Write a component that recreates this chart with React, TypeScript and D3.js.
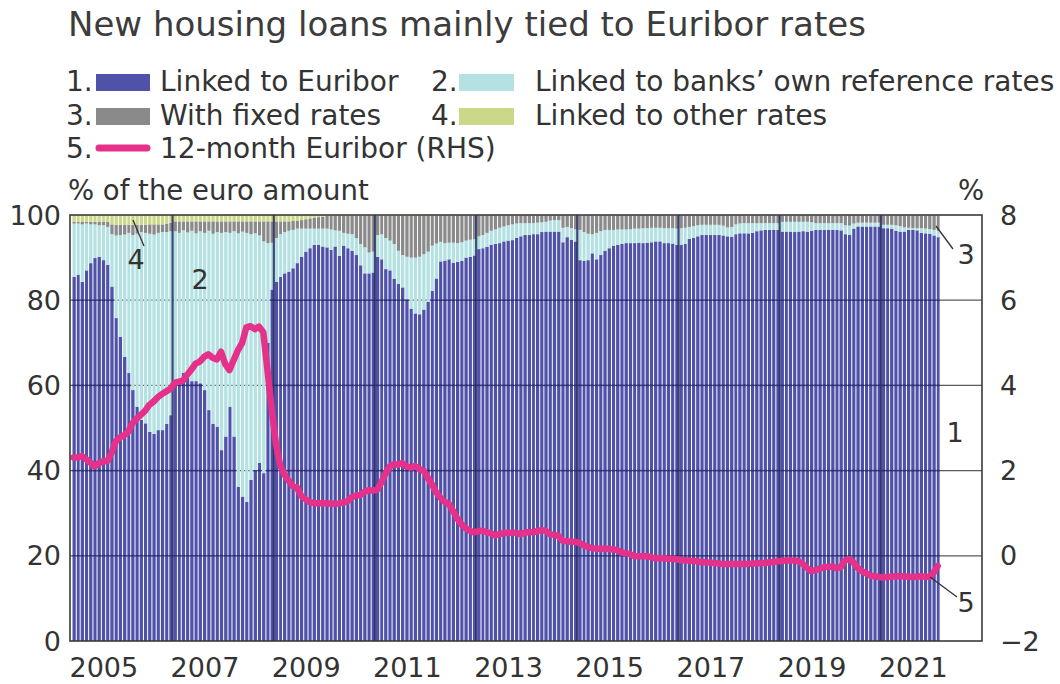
import * as d3 from "d3";

// monthly data, Jan 2005 .. Feb 2022
const startMonth = new Date(2005, 0, 1);

// 1. share of new housing loans linked to Euribor, %
const euriborShare = [
  85.5, 86, 84.3, 87, 88.7, 89.9, 90.2, 89.4, 88.3, 83.2, 75.8, 71.4, // 2005
  66.7, 62.9, 58.9, 55, 51.9, 51.1, 49.1, 48.6, 49.5, 49.5, 51, 53, // 2006
  61.3, 61.5, 62.9, 61.8, 61, 61, 60.5, 58.9, 54.2, 51, 50.3, 44.8, // 2007
  48, 55, 48, 36.2, 33.9, 32.7, 37.8, 40.1, 41.8, 39.4, 70, 82.5, // 2008
  84.3, 85.5, 86.3, 86.7, 87.5, 88.7, 90.2, 91.4, 92.2, 93, 93, 92.6, // 2009
  92.4, 91.8, 92.6, 90.4, 92.8, 92.2, 91.6, 90.6, 88.2, 86.3, 86.3, 86.5, // 2010
  90.2, 89.6, 87.3, 87, 85, 83.8, 83, 80.2, 78, 76.9, 76.7, 77.8, // 2011
  79.6, 82.2, 85.1, 89.1, 89.3, 89.6, 88.8, 89, 89.2, 90, 90.2, 90.5, // 2012
  92, 92.2, 92.5, 93, 93.2, 93.4, 93.8, 94, 94.1, 94.6, 95, 95.3, // 2013
  95.3, 95.5, 95.5, 96, 96.1, 96.1, 96.1, 96.1, 93.6, 94.8, 94.2, 93.8, // 2014
  89.4, 89.2, 89.4, 91, 89.6, 90.6, 91.6, 92.2, 92.8, 93, 93.2, 93.4, // 2015
  93.4, 93.4, 93.5, 93.4, 93.5, 93.6, 93.8, 93.8, 93.4, 93.4, 93.3, 93, // 2016
  93, 93.2, 94.4, 94.6, 95, 95.3, 95.3, 95.3, 95.3, 95.3, 95.2, 95, // 2017
  94.9, 95.5, 95.7, 95.7, 95.7, 95.8, 96.2, 96.4, 96.5, 96.5, 96.5, 96.5, // 2018
  96.1, 96.1, 96.1, 96, 96.1, 96.2, 96.1, 96.3, 96.5, 96.5, 96.5, 96.5, // 2019
  96.5, 96.5, 96.4, 95.5, 95.3, 96.8, 97.3, 97.3, 97.3, 97.3, 97.3, 97.3, // 2020
  96.9, 96.9, 96.8, 96.3, 96.1, 96.1, 96.5, 96.5, 96.4, 95.8, 95.7, 95.6, // 2021
  95.2, 94.8, // 2022
];

// 2. linked to banks' own reference rates, %
const ownRefShare = [
  12.5, 12, 13.5, 11, 9.1, 7.9, 7.4, 8.2, 8.9, 12.3, 19.4, 23.9,
  28.7, 32.9, 36.4, 40.6, 44.1, 44.7, 46.5, 46.8, 46.3, 46.5, 45, 43.2,
  34.9, 34.3, 33.5, 34.1, 35.3, 34.7, 35.7, 36.9, 42.1, 44.6, 45.7, 51,
  48, 40.8, 48.2, 59.5, 62.2, 63.1, 57.7, 55.6, 53.4, 54.4, 23.4, 11,
  10.3, 10, 9.7, 9.6, 9, 8.1, 6.6, 5.4, 4.6, 3.8, 3.8, 4.2,
  4.4, 4.8, 3.8, 5.9, 3, 3.4, 3.9, 4, 5, 6.1, 4.9, 4.9,
  5.1, 5.9, 7.3, 7, 8.2, 7.8, 7.6, 10, 12, 13.1, 13.5, 13,
  11.8, 10.6, 8.2, 4.6, 4.1, 3.9, 4.7, 4.4, 4.4, 4, 4, 3.8,
  3, 3.1, 3.3, 3.3, 3.4, 3.6, 3.5, 3.6, 3.7, 3.4, 3.1, 2.8,
  2.8, 2.6, 2.7, 2.3, 2.3, 2.6, 2.7, 2.7, 3.4, 2.4, 2.7, 2.9,
  7.1, 6.8, 6.2, 4.5, 6.2, 5.6, 4.9, 4.3, 3.7, 3.6, 3.4, 3.2,
  3.3, 3.4, 3.3, 3.5, 3.4, 3.4, 3.2, 3.2, 3.5, 3.5, 3.6, 3.8,
  3.9, 3.8, 2.8, 2.8, 2.6, 2.4, 2.4, 2.4, 2.4, 2.4, 2.3, 2.1,
  2.3, 2.3, 2.3, 2.4, 2.4, 2.3, 1.9, 1.7, 1.6, 1.6, 1.6, 1.6,
  2.3, 2.3, 2.3, 2.4, 2.3, 2.2, 2.3, 2, 1.6, 1.6, 1.6, 1.6,
  1.6, 1.6, 1.7, 2.1, 2.2, 1.2, 0.9, 0.9, 0.9, 0.9, 0.9, 0.9,
  0.8, 0.8, 0.9, 1.3, 1.3, 1, 0.5, 0.4, 0.5, 1.1, 1.1, 1.1,
  1.3, 1.5,
];

// 3. with fixed rates, %
const fixedShare = [
  0.4, 0.4, 0.6, 0.4, 0.6, 0.6, 0.8, 0.8, 1.2, 2.3, 2.5, 2.4,
  2.3, 1.9, 2.4, 2.1, 1.7, 1.9, 2.2, 2.4, 2, 1.8, 2, 2,
  2.3, 2.7, 2.1, 2.6, 2.2, 2.8, 2.3, 2.7, 2.2, 2.9, 2.5, 2.7,
  2.5, 2.7, 2.3, 2.8, 2.4, 2.7, 3, 2.8, 3.3, 4.7, 5.1, 5,
  3.9, 3, 2.5, 2.2, 2.1, 1.9, 2, 2.2, 2.4, 2.6, 2.7, 2.8,
  3, 3.2, 3.4, 3.5, 4, 4.2, 4.3, 5.2, 6.6, 7.4, 8.6, 8.4,
  4.5, 4.3, 5.2, 5.8, 6.6, 8.2, 9.2, 9.6, 9.8, 9.8, 9.6, 9,
  8.5, 7.1, 6.6, 6.2, 6.5, 6.4, 6.4, 6.5, 6.3, 5.9, 5.7, 5.6,
  4.9, 4.6, 4.1, 3.6, 3.3, 2.9, 2.6, 2.3, 2.1, 1.9, 1.8, 1.8,
  1.8, 1.8, 1.7, 1.6, 1.5, 1.2, 1.1, 1.1, 2.9, 2.7, 3, 3.2,
  3.4, 3.9, 4.3, 4.4, 4.1, 3.7, 3.4, 3.4, 3.4, 3.3, 3.3, 3.3,
  3.2, 3.1, 3.1, 3, 3, 2.9, 2.9, 2.9, 3, 3, 3, 3.1,
  3, 2.9, 2.7, 2.5, 2.3, 2.2, 2.2, 2.2, 2.2, 2.2, 2.4, 2.8,
  2.7, 2.1, 1.9, 1.8, 1.8, 1.8, 1.8, 1.8, 1.8, 1.8, 1.8, 1.8,
  1.5, 1.5, 1.5, 1.5, 1.5, 1.5, 1.5, 1.6, 1.8, 1.8, 1.8, 1.8,
  1.8, 1.8, 1.8, 2.3, 2.4, 1.9, 1.7, 1.7, 1.7, 1.7, 1.7, 1.7,
  2.2, 2.2, 2.2, 2.3, 2.5, 2.8, 2.9, 3, 3, 3, 3.1, 3.2,
  3.4, 3.6,
];

// 4. linked to other rates, %
const otherShare = [
  1.6, 1.6, 1.6, 1.6, 1.6, 1.6, 1.6, 1.6, 1.6, 2.2, 2.3, 2.3,
  2.3, 2.3, 2.3, 2.3, 2.3, 2.3, 2.2, 2.2, 2.2, 2.2, 2, 1.8,
  1.5, 1.5, 1.5, 1.5, 1.5, 1.5, 1.5, 1.5, 1.5, 1.5, 1.5, 1.5,
  1.5, 1.5, 1.5, 1.5, 1.5, 1.5, 1.5, 1.5, 1.5, 1.5, 1.5, 1.5,
  1.5, 1.5, 1.5, 1.5, 1.4, 1.3, 1.2, 1, 0.8, 0.6, 0.5, 0.4,
  0.2, 0.2, 0.2, 0.2, 0.2, 0.2, 0.2, 0.2, 0.2, 0.2, 0.2, 0.2,
  0.2, 0.2, 0.2, 0.2, 0.2, 0.2, 0.2, 0.2, 0.2, 0.2, 0.2, 0.2,
  0.1, 0.1, 0.1, 0.1, 0.1, 0.1, 0.1, 0.1, 0.1, 0.1, 0.1, 0.1,
  0.1, 0.1, 0.1, 0.1, 0.1, 0.1, 0.1, 0.1, 0.1, 0.1, 0.1, 0.1,
  0.1, 0.1, 0.1, 0.1, 0.1, 0.1, 0.1, 0.1, 0.1, 0.1, 0.1, 0.1,
  0.1, 0.1, 0.1, 0.1, 0.1, 0.1, 0.1, 0.1, 0.1, 0.1, 0.1, 0.1,
  0.1, 0.1, 0.1, 0.1, 0.1, 0.1, 0.1, 0.1, 0.1, 0.1, 0.1, 0.1,
  0.1, 0.1, 0.1, 0.1, 0.1, 0.1, 0.1, 0.1, 0.1, 0.1, 0.1, 0.1,
  0.1, 0.1, 0.1, 0.1, 0.1, 0.1, 0.1, 0.1, 0.1, 0.1, 0.1, 0.1,
  0.1, 0.1, 0.1, 0.1, 0.1, 0.1, 0.1, 0.1, 0.1, 0.1, 0.1, 0.1,
  0.1, 0.1, 0.1, 0.1, 0.1, 0.1, 0.1, 0.1, 0.1, 0.1, 0.1, 0.1,
  0.1, 0.1, 0.1, 0.1, 0.1, 0.1, 0.1, 0.1, 0.1, 0.1, 0.1, 0.1,
  0.1, 0.1,
];

// 5. 12-month Euribor, % (RHS)
const euribor12m = [
  2.31, 2.31, 2.34, 2.27, 2.19, 2.1, 2.17, 2.22, 2.22, 2.41, 2.68, 2.78,
  2.83, 2.91, 3.11, 3.22, 3.31, 3.4, 3.54, 3.62, 3.72, 3.8, 3.86, 3.92,
  4.06, 4.09, 4.11, 4.25, 4.37, 4.51, 4.56, 4.67, 4.73, 4.65, 4.61, 4.79,
  4.5, 4.36, 4.59, 4.82, 4.99, 5.36, 5.39, 5.32, 5.38, 5.25, 4.35, 3.45,
  2.62, 2.14, 1.91, 1.77, 1.64, 1.61, 1.41, 1.33, 1.26, 1.24, 1.23, 1.24,
  1.23, 1.23, 1.22, 1.23, 1.25, 1.28, 1.37, 1.42, 1.42, 1.5, 1.54, 1.53,
  1.55, 1.71, 1.92, 2.09, 2.15, 2.14, 2.18, 2.1, 2.07, 2.11, 2.04, 2.0,
  1.84, 1.68, 1.5, 1.37, 1.27, 1.22, 1.06, 0.88, 0.74, 0.65, 0.59, 0.55,
  0.58, 0.59, 0.55, 0.53, 0.48, 0.51, 0.53, 0.54, 0.54, 0.54, 0.51, 0.54,
  0.56, 0.55, 0.58, 0.6, 0.59, 0.51, 0.49, 0.47, 0.36, 0.34, 0.33, 0.33,
  0.3, 0.25, 0.21, 0.18, 0.17, 0.16, 0.17, 0.16, 0.15, 0.13, 0.08, 0.06,
  0.04, -0.01, -0.01, -0.01, -0.01, -0.03, -0.06, -0.05, -0.06, -0.07, -0.07, -0.08,
  -0.1, -0.11, -0.11, -0.12, -0.13, -0.15, -0.15, -0.16, -0.17, -0.18, -0.19, -0.19,
  -0.19, -0.19, -0.19, -0.19, -0.19, -0.18, -0.18, -0.17, -0.17, -0.15, -0.15, -0.13,
  -0.12, -0.11, -0.11, -0.11, -0.13, -0.19, -0.28, -0.36, -0.34, -0.3, -0.27, -0.26,
  -0.25, -0.29, -0.27, -0.11, -0.08, -0.15, -0.28, -0.36, -0.41, -0.47, -0.48, -0.5,
  -0.51, -0.5, -0.49, -0.48, -0.48, -0.48, -0.49, -0.5, -0.49, -0.48, -0.49, -0.5,
  -0.4, -0.24,
];

const leftTicks = [0, 20, 40, 60, 80, 100];
const rightTicks = [-2, 0, 2, 4, 6, 8];
const yearLabels = [2005, 2007, 2009, 2011, 2013, 2015, 2017, 2019, 2021];

const seriesKeys = ["euribor", "own", "fixed", "other"];
const colors = {
  euribor: "#4f52a8",
  own: "#b4e1e2",
  fixed: "#8a8a8a",
  other: "#cbd888",
  line: "#e6318b",
};

const font = "DejaVu Sans";
const textColor = "#333";

export default function App() {
  const width = 1060;
  const height = 684;
  const left = 71.5;
  const right = 982;
  const top = 215;
  const bottom = 641;

  const x = d3
    .scaleTime()
    .domain([new Date(2005, 0, 1), new Date(2023, 0, 1)])
    .range([left, right]);
  const yL = d3.scaleLinear().domain([0, 100]).range([bottom, top]);
  const yR = d3.scaleLinear().domain([-2, 8]).range([bottom, top]);

  const rows = euriborShare.map((v, i) => ({
    date: d3.timeMonth.offset(startMonth, i),
    euribor: v,
    own: ownRefShare[i],
    fixed: fixedShare[i],
    other: otherShare[i],
  }));

  const stacked = d3.stack().keys(seriesKeys)(rows);

  const barX = (d) => x(d.date) + 1;
  const barW = (d) => x(d3.timeMonth.offset(d.date, 1)) - x(d.date) - 1;
  const midMonth = (d) => (x(d.date) + x(d3.timeMonth.offset(d.date, 1))) / 2;

  const line = d3
    .line()
    .x((d, i) => midMonth(rows[i]))
    .y((d) => yR(d))
    .curve(d3.curveLinear);

  const gridVals = [20, 40, 60, 80];
  const yearLines = d3.range(2007, 2023, 2).map((y) => x(new Date(y, 0, 1)));

  return (
    <svg
      width={width}
      height={height}
      style={{ position: "absolute", left: 0, top: 0, background: "#fff" }}
      fontFamily={font}
    >
      <defs>
        <clipPath id="blueClip">
          {stacked[0].map((d, i) => (
            <rect
              key={i}
              x={barX(d.data)}
              width={barW(d.data)}
              y={yL(d[1])}
              height={yL(d[0]) - yL(d[1])}
            />
          ))}
        </clipPath>
      </defs>

      {/* title */}
      <text x={68} y={36} fontSize={34} fill="#3c3c3c">
        New housing loans mainly tied to Euribor rates
      </text>

      {/* legend */}
      <g fontSize={28} fill={textColor}>
        <text x={66} y={91}>1.</text>
        <rect x={96} y={74} width={54} height={17} fill={colors.euribor} />
        <text x={160} y={91}>Linked to Euribor</text>
        <text x={431} y={91}>2.</text>
        <rect x={459} y={74} width={55} height={17} fill={colors.own} />
        <text x={535} y={91}>Linked to banks’ own reference rates</text>

        <text x={66} y={125}>3.</text>
        <rect x={96} y={108} width={54} height={17} fill={colors.fixed} />
        <text x={160} y={125}>With fixed rates</text>
        <text x={431} y={125}>4.</text>
        <rect x={459} y={108} width={55} height={17} fill={colors.other} />
        <text x={535} y={125}>Linked to other rates</text>

        <text x={66} y={158}>5.</text>
        <line
          x1={99}
          x2={147}
          y1={148}
          y2={148}
          stroke={colors.line}
          strokeWidth={7}
          strokeLinecap="round"
        />
        <text x={160} y={158}>12-month Euribor (RHS)</text>
      </g>

      {/* axis titles */}
      <text x={68} y={200} fontSize={27.5} fill={textColor}>
        % of the euro amount
      </text>
      <text x={958} y={200} fontSize={27.5} fill={textColor}>
        %
      </text>

      {/* gridlines under bars */}
      {gridVals.map((v) => (
        <line
          key={v}
          x1={70}
          x2={right}
          y1={yL(v)}
          y2={yL(v)}
          stroke="#5a5a5a"
          strokeWidth={1.3}
        />
      ))}

      {/* stacked bars */}
      {stacked.map((s) => (
        <g key={s.key} fill={colors[s.key]}>
          {s.map((d, i) => (
            <rect
              key={i}
              x={barX(d.data)}
              width={barW(d.data)}
              y={yL(d[1])}
              height={Math.max(0, yL(d[0]) - yL(d[1]))}
            />
          ))}
        </g>
      ))}

      {/* gridlines over the Euribor-linked bars */}
      <g clipPath="url(#blueClip)">
        {gridVals.map((v) => (
          <line
            key={v}
            x1={70}
            x2={right}
            y1={yL(v)}
            y2={yL(v)}
            stroke="#2b2d78"
            strokeWidth={1.6}
          />
        ))}
      </g>

      {/* year separators */}
      {yearLines.map((xv, i) => (
        <line
          key={i}
          x1={xv}
          x2={xv}
          y1={top}
          y2={bottom}
          stroke="#2a2c62"
          strokeWidth={2.2}
          opacity={0.85}
        />
      ))}

      {/* Euribor line */}
      <path
        d={line(euribor12m)}
        fill="none"
        stroke={colors.line}
        strokeWidth={6.5}
        strokeLinejoin="round"
        strokeLinecap="round"
      />

      {/* frame */}
      <rect
        x={70}
        y={top}
        width={right - 70}
        height={bottom - top}
        fill="none"
        stroke="#3a3a3a"
        strokeWidth={1.6}
      />

      {/* left axis */}
      <g fontSize={27} fill={textColor} textAnchor="end">
        {leftTicks.map((t) => (
          <text key={t} x={61} y={yL(t) + 9.5}>
            {t}
          </text>
        ))}
      </g>

      {/* right axis */}
      <g fontSize={27} fill={textColor}>
        {rightTicks.map((t) => (
          <text key={t} x={1000} y={yR(t) + 9.5}>
            {t < 0 ? "−" + Math.abs(t) : t}
          </text>
        ))}
      </g>

      {/* x axis labels */}
      <g fontSize={27} fill={textColor}>
        {yearLabels.map((yr) => (
          <text key={yr} x={x(new Date(yr, 0, 1)) - 2} y={677}>
            {yr}
          </text>
        ))}
      </g>

      {/* annotations */}
      <g fontSize={27} fill={textColor} textAnchor="middle">
        <line x1={133} y1={220} x2={144} y2={246} stroke="#333" strokeWidth={1.3} />
        <text x={136} y={269}>4</text>
        <text x={200} y={289}>2</text>
        <text x={955} y={442}>1</text>
        <line x1={936} y1={226} x2={953} y2={249} stroke="#333" strokeWidth={1.3} />
        <text x={966} y={264}>3</text>
        <line x1={930} y1={577} x2={957} y2={597} stroke="#333" strokeWidth={1.3} />
        <text x={966} y={612}>5</text>
      </g>
    </svg>
  );
}
